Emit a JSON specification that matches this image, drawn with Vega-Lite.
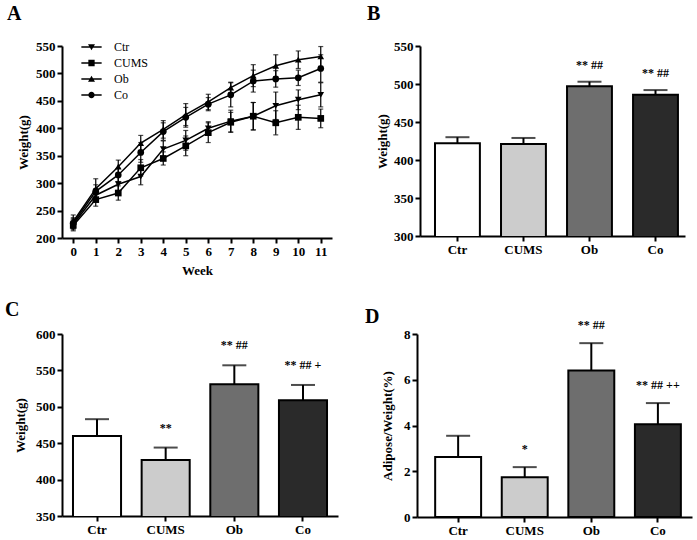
{
  "$schema": "https://vega.github.io/schema/vega-lite/v6.json",
  "background": "white",
  "padding": {"left": 5, "top": 4, "right": 5, "bottom": 5},
  "spacing": 23,
  "config": {
    "view": {"stroke": null},
    "font": "Liberation Serif",
    "axis": {
      "domainColor": "black", "domainWidth": 2, "tickColor": "black", "tickWidth": 2, "tickSize": 5,
      "labelColor": "black", "labelFont": "Liberation Serif", "labelFontSize": 13, "labelFontWeight": "bold",
      "titleFont": "Liberation Serif", "titleFontSize": 13, "titleFontWeight": "bold", "titleColor": "black",
      "grid": false, "labelPadding": 2, "labelFlush": false, "labelOverlap": false, "labelBound": false
    },
    "title": {"font": "Liberation Serif", "fontSize": 20, "fontWeight": "bold", "anchor": "start", "frame": "group", "color": "black"}
  },
  "datasets": {
    "weekly": [
      {"group": "Ctr", "week": 0, "weight": 225, "lo": 215, "hi": 235},
      {"group": "Ctr", "week": 1, "weight": 278, "lo": 266, "hi": 290},
      {"group": "Ctr", "week": 2, "weight": 298, "lo": 283, "hi": 313},
      {"group": "Ctr", "week": 3, "weight": 312, "lo": 297, "hi": 327},
      {"group": "Ctr", "week": 4, "weight": 362, "lo": 347, "hi": 377},
      {"group": "Ctr", "week": 5, "weight": 378, "lo": 360, "hi": 396},
      {"group": "Ctr", "week": 6, "weight": 400, "lo": 388, "hi": 412},
      {"group": "Ctr", "week": 7, "weight": 413, "lo": 393, "hi": 433},
      {"group": "Ctr", "week": 8, "weight": 422, "lo": 397, "hi": 447},
      {"group": "Ctr", "week": 9, "weight": 441, "lo": 416, "hi": 466},
      {"group": "Ctr", "week": 10, "weight": 452, "lo": 434, "hi": 470},
      {"group": "Ctr", "week": 11, "weight": 461, "lo": 439, "hi": 483},
      {"group": "CUMS", "week": 0, "weight": 223, "lo": 213, "hi": 233},
      {"group": "CUMS", "week": 1, "weight": 270, "lo": 258, "hi": 282},
      {"group": "CUMS", "week": 2, "weight": 282, "lo": 269, "hi": 295},
      {"group": "CUMS", "week": 3, "weight": 328, "lo": 313, "hi": 343},
      {"group": "CUMS", "week": 4, "weight": 345, "lo": 333, "hi": 357},
      {"group": "CUMS", "week": 5, "weight": 368, "lo": 350, "hi": 386},
      {"group": "CUMS", "week": 6, "weight": 392, "lo": 374, "hi": 410},
      {"group": "CUMS", "week": 7, "weight": 411, "lo": 393, "hi": 429},
      {"group": "CUMS", "week": 8, "weight": 422, "lo": 397, "hi": 447},
      {"group": "CUMS", "week": 9, "weight": 410, "lo": 388, "hi": 432},
      {"group": "CUMS", "week": 10, "weight": 420, "lo": 398, "hi": 442},
      {"group": "CUMS", "week": 11, "weight": 418, "lo": 401, "hi": 435},
      {"group": "Ob", "week": 0, "weight": 230, "lo": 218, "hi": 242},
      {"group": "Ob", "week": 1, "weight": 290, "lo": 272, "hi": 308},
      {"group": "Ob", "week": 2, "weight": 330, "lo": 318, "hi": 342},
      {"group": "Ob", "week": 3, "weight": 373, "lo": 359, "hi": 387},
      {"group": "Ob", "week": 4, "weight": 398, "lo": 382, "hi": 414},
      {"group": "Ob", "week": 5, "weight": 425, "lo": 405, "hi": 445},
      {"group": "Ob", "week": 6, "weight": 448, "lo": 434, "hi": 462},
      {"group": "Ob", "week": 7, "weight": 474, "lo": 464, "hi": 484},
      {"group": "Ob", "week": 8, "weight": 496, "lo": 476, "hi": 516},
      {"group": "Ob", "week": 9, "weight": 514, "lo": 494, "hi": 534},
      {"group": "Ob", "week": 10, "weight": 525, "lo": 509, "hi": 541},
      {"group": "Ob", "week": 11, "weight": 531, "lo": 513, "hi": 549},
      {"group": "Co", "week": 0, "weight": 227, "lo": 217, "hi": 237},
      {"group": "Co", "week": 1, "weight": 285, "lo": 273, "hi": 297},
      {"group": "Co", "week": 2, "weight": 315, "lo": 303, "hi": 327},
      {"group": "Co", "week": 3, "weight": 356, "lo": 338, "hi": 374},
      {"group": "Co", "week": 4, "weight": 394, "lo": 378, "hi": 410},
      {"group": "Co", "week": 5, "weight": 420, "lo": 402, "hi": 438},
      {"group": "Co", "week": 6, "weight": 444, "lo": 432, "hi": 456},
      {"group": "Co", "week": 7, "weight": 461, "lo": 439, "hi": 483},
      {"group": "Co", "week": 8, "weight": 486, "lo": 466, "hi": 506},
      {"group": "Co", "week": 9, "weight": 490, "lo": 475, "hi": 505},
      {"group": "Co", "week": 10, "weight": 492, "lo": 478, "hi": 506},
      {"group": "Co", "week": 11, "weight": 509, "lo": 484, "hi": 534}
    ],
    "panelB": [
      {"group": "Ctr", "value": 422, "hi": 430, "sig": ""},
      {"group": "CUMS", "value": 421, "hi": 429, "sig": ""},
      {"group": "Ob", "value": 497, "hi": 503, "sig": "** ##"},
      {"group": "Co", "value": 486, "hi": 492, "sig": "** ##"}
    ],
    "panelC": [
      {"group": "Ctr", "value": 460, "hi": 483, "sig": ""},
      {"group": "CUMS", "value": 427, "hi": 444, "sig": "**"},
      {"group": "Ob", "value": 531, "hi": 557, "sig": "** ##"},
      {"group": "Co", "value": 509, "hi": 530, "sig": "** ## +"}
    ],
    "panelD": [
      {"group": "Ctr", "value": 2.62, "hi": 3.55, "sig": ""},
      {"group": "CUMS", "value": 1.74, "hi": 2.18, "sig": "*"},
      {"group": "Ob", "value": 6.4, "hi": 7.6, "sig": "** ##"},
      {"group": "Co", "value": 4.06, "hi": 4.98, "sig": "** ## ++"}
    ]
  },
  "vconcat": [
    {
      "hconcat": [
        {
          "width": 270, "height": 192,
          "title": {"text": "A", "dx": -55, "offset": 16},
          "data": {"name": "weekly"},
          "encoding": {
            "x": {"field": "week", "type": "quantitative", "scale": {"domain": [-0.5, 11.5], "nice": false, "zero": false},
                  "axis": {"values": [0,1,2,3,4,5,6,7,8,9,10,11], "title": "Week", "titlePadding": 6}}
          },
          "layer": [
            {
              "mark": {"type": "errorbar", "color": "black", "thickness": 1.2, "ticks": {"size": 5, "thickness": 1.2, "color": "black"}},
              "encoding": {
                "y": {"field": "lo", "type": "quantitative", "title": "Weight(g)", "scale": {"domain": [200, 550], "nice": false, "zero": false},
                      "axis": {"values": [200,250,300,350,400,450,500,550], "titlePadding": 5}},
                "y2": {"field": "hi"}
              }
            },
            {
              "mark": {"type": "line", "color": "black", "strokeWidth": 1.5},
              "encoding": {
                "y": {"field": "weight", "type": "quantitative", "title": "Weight(g)", "scale": {"domain": [200, 550], "nice": false, "zero": false},
                      "axis": {"values": [200,250,300,350,400,450,500,550], "titlePadding": 5}},
                "detail": {"field": "group"}
              }
            },
            {
              "mark": {"type": "point", "filled": true, "color": "black", "size": 45, "opacity": 1},
              "encoding": {
                "y": {"field": "weight", "type": "quantitative", "title": "Weight(g)", "scale": {"domain": [200, 550], "nice": false, "zero": false},
                      "axis": {"values": [200,250,300,350,400,450,500,550], "titlePadding": 5}},
                "shape": {"field": "group", "type": "nominal", "scale": {"domain": ["Ctr", "CUMS", "Ob", "Co"], "range": ["triangle-down", "square", "triangle-up", "circle"]}, "legend": null}
              }
            },
            {
              "transform": [{"filter": "false"}],
              "mark": {"type": "point", "filled": true, "color": "black", "opacity": 1},
              "encoding": {
                "y": {"field": "weight", "type": "quantitative", "title": "Weight(g)", "scale": {"domain": [200, 550], "nice": false, "zero": false},
                      "axis": {"values": [200,250,300,350,400,450,500,550], "titlePadding": 5}},
                "shape": {"field": "group", "type": "nominal",
                  "scale": {"domain": ["Ctr", "CUMS", "Ob", "Co"],
                            "range": ["M-2.9,-0.2H2.9V0.2H-2.9ZM-1,-0.8H1L0,0.9Z", "M-2.9,-0.2H2.9V0.2H-2.9ZM-0.9,-0.9H0.9V0.9H-0.9Z", "M-2.9,-0.2H2.9V0.2H-2.9ZM-1,0.8L0,-0.9L1,0.8Z", "M-2.9,-0.2H2.9V0.2H-2.9ZM-0.9,0A0.9,0.9,0,1,1,0.9,0A0.9,0.9,0,1,1,-0.9,0Z"]},
                  "legend": {"orient": "none", "legendX": 23.5, "legendY": -5, "title": null, "symbolSize": 49, "padding": 0,
                             "labelFont": "Liberation Serif", "labelFontSize": 12, "labelFontWeight": "normal", "labelColor": "black",
                             "labelOffset": 16.5, "rowPadding": 4, "symbolFillColor": "black", "symbolStrokeWidth": 0, "symbolOpacity": 1}}
              }
            }
          ],
          "resolve": {"scale": {"shape": "independent"}, "legend": {"shape": "independent"}}
        },
        {
          "width": 265, "height": 190,
          "title": {"text": "B", "dx": -53, "offset": 16},
          "data": {"name": "panelB"},
          "encoding": {
            "x": {"field": "group", "type": "nominal", "sort": null, "scale": {"paddingInner": 0.32, "paddingOuter": 0.167, "align": 0.68}, "axis": {"labelAngle": 0, "title": null}}
          },
          "layer": [
            {
              "mark": {"type": "bar", "stroke": "black", "strokeWidth": 2, "clip": true},
              "encoding": {
                "y": {"field": "value", "type": "quantitative", "title": "Weight(g)", "scale": {"domain": [300, 550], "nice": false, "zero": false}, "axis": {"values": [300,350,400,450,500,550], "titlePadding": 4}},
                "fill": {"field": "group", "type": "nominal", "scale": {"domain": ["Ctr", "CUMS", "Ob", "Co"], "range": ["#ffffff", "#cccccc", "#6e6e6e", "#2a2a2a"]}, "legend": null}
              }
            },
            {
              "mark": {"type": "rule", "color": "black", "strokeWidth": 2},
              "encoding": {"y": {"field": "value", "type": "quantitative", "title": "Weight(g)", "scale": {"domain": [300, 550], "nice": false, "zero": false}, "axis": {"values": [300,350,400,450,500,550], "titlePadding": 4}}, "y2": {"field": "hi"}}
            },
            {
              "mark": {"type": "tick", "color": "black", "thickness": 2, "size": 24},
              "encoding": {"y": {"field": "hi", "type": "quantitative", "title": "Weight(g)", "scale": {"domain": [300, 550], "nice": false, "zero": false}, "axis": {"values": [300,350,400,450,500,550], "titlePadding": 4}}}
            },
            {
              "mark": {"type": "text", "dy": -17, "fontSize": 12, "fontWeight": "bold", "font": "Liberation Serif", "color": "black"},
              "encoding": {"y": {"field": "hi", "type": "quantitative", "title": "Weight(g)", "scale": {"domain": [300, 550], "nice": false, "zero": false}, "axis": {"values": [300,350,400,450,500,550], "titlePadding": 4}}, "text": {"field": "sig"}}
            }
          ]
        }
      ],
      "spacing": 35
    },
    {
      "hconcat": [
        {
          "width": 276, "height": 182,
          "title": {"text": "C", "dx": -57, "offset": 8},
          "data": {"name": "panelC"},
          "encoding": {
            "x": {"field": "group", "type": "nominal", "sort": null, "scale": {"paddingInner": 0.3, "paddingOuter": 0.16}, "axis": {"labelAngle": 0, "title": null}}
          },
          "layer": [
            {
              "mark": {"type": "bar", "stroke": "black", "strokeWidth": 2, "clip": true},
              "encoding": {
                "y": {"field": "value", "type": "quantitative", "title": "Weight(g)", "scale": {"domain": [350, 600], "nice": false, "zero": false}, "axis": {"values": [350,400,450,500,550,600], "titlePadding": 8}},
                "fill": {"field": "group", "type": "nominal", "scale": {"domain": ["Ctr", "CUMS", "Ob", "Co"], "range": ["#ffffff", "#cccccc", "#6e6e6e", "#2a2a2a"]}, "legend": null}
              }
            },
            {
              "mark": {"type": "rule", "color": "black", "strokeWidth": 2},
              "encoding": {"y": {"field": "value", "type": "quantitative", "title": "Weight(g)", "scale": {"domain": [350, 600], "nice": false, "zero": false}, "axis": {"values": [350,400,450,500,550,600], "titlePadding": 8}}, "y2": {"field": "hi"}}
            },
            {
              "mark": {"type": "tick", "color": "black", "thickness": 2, "size": 24},
              "encoding": {"y": {"field": "hi", "type": "quantitative", "title": "Weight(g)", "scale": {"domain": [350, 600], "nice": false, "zero": false}, "axis": {"values": [350,400,450,500,550,600], "titlePadding": 8}}}
            },
            {
              "mark": {"type": "text", "dy": -20, "fontSize": 12, "fontWeight": "bold", "font": "Liberation Serif", "color": "black"},
              "encoding": {"y": {"field": "hi", "type": "quantitative", "title": "Weight(g)", "scale": {"domain": [350, 600], "nice": false, "zero": false}, "axis": {"values": [350,400,450,500,550,600], "titlePadding": 8}}, "text": {"field": "sig"}}
            }
          ]
        },
        {
          "width": 275, "height": 183,
          "title": {"text": "D", "dx": -52, "offset": -7.5},
          "data": {"name": "panelD"},
          "encoding": {
            "x": {"field": "group", "type": "nominal", "sort": null, "scale": {"paddingInner": 0.31, "paddingOuter": 0.22, "align": 0.62}, "axis": {"labelAngle": 0, "title": null}}
          },
          "layer": [
            {
              "mark": {"type": "bar", "stroke": "black", "strokeWidth": 2, "clip": true},
              "encoding": {
                "y": {"field": "value", "type": "quantitative", "title": "Adipose/Weight(%)", "scale": {"domain": [0, 8], "nice": false}, "axis": {"values": [0,2,4,6,8], "titlePadding": 9}},
                "fill": {"field": "group", "type": "nominal", "scale": {"domain": ["Ctr", "CUMS", "Ob", "Co"], "range": ["#ffffff", "#cccccc", "#6e6e6e", "#2a2a2a"]}, "legend": null}
              }
            },
            {
              "mark": {"type": "rule", "color": "black", "strokeWidth": 2},
              "encoding": {"y": {"field": "value", "type": "quantitative", "title": "Adipose/Weight(%)", "scale": {"domain": [0, 8], "nice": false}, "axis": {"values": [0,2,4,6,8], "titlePadding": 9}}, "y2": {"field": "hi"}}
            },
            {
              "mark": {"type": "tick", "color": "black", "thickness": 2, "size": 24},
              "encoding": {"y": {"field": "hi", "type": "quantitative", "title": "Adipose/Weight(%)", "scale": {"domain": [0, 8], "nice": false}, "axis": {"values": [0,2,4,6,8], "titlePadding": 9}}}
            },
            {
              "mark": {"type": "text", "dy": -18, "fontSize": 12, "fontWeight": "bold", "font": "Liberation Serif", "color": "black"},
              "encoding": {"y": {"field": "hi", "type": "quantitative", "title": "Adipose/Weight(%)", "scale": {"domain": [0, 8], "nice": false}, "axis": {"values": [0,2,4,6,8], "titlePadding": 9}}, "text": {"field": "sig"}}
            }
          ]
        }
      ],
      "spacing": 27
    }
  ]
}
